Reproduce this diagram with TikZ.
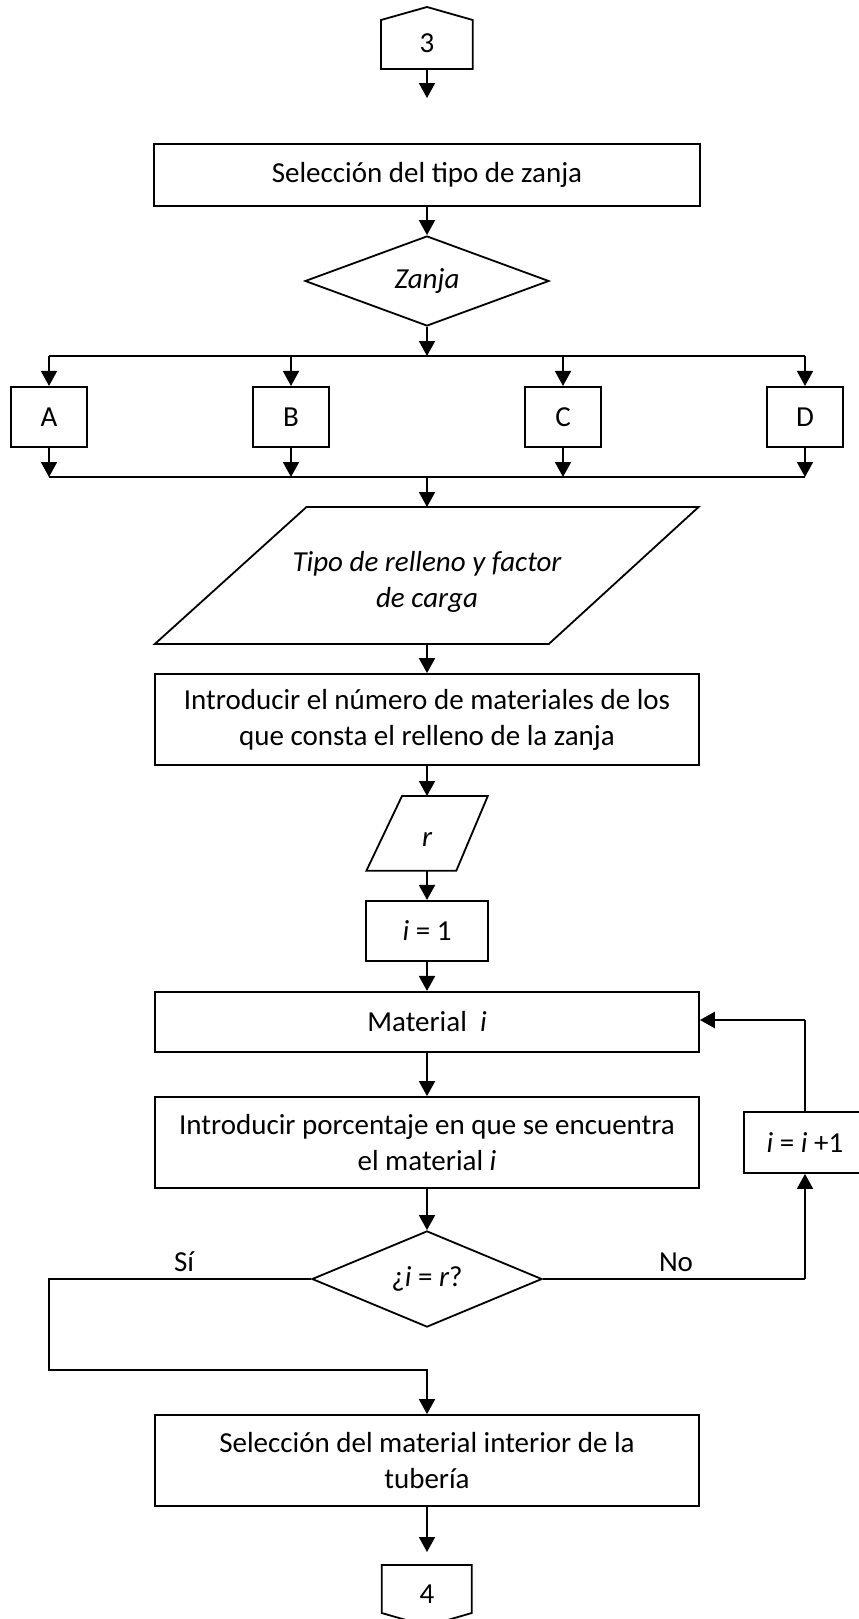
\documentclass[tikz,border=0pt]{standalone}
\usepackage{fontspec}
\setmainfont{Carlito}
\usetikzlibrary{arrows.meta,shapes.geometric,calc}
\begin{document}
\begin{tikzpicture}[x=1pt,y=-1pt,
  line width=1.8pt,
  every node/.style={font=\fontsize{29}{36}\selectfont, inner sep=0pt},
  proc/.style={draw, rectangle, align=center},
  ghost/.style={rectangle, align=center, outer sep=0pt},
  dec/.style={draw, diamond, align=center},
  arr/.style={-{Triangle[length=15pt,width=16pt]}},
  lbl/.style={inner sep=0pt}
  ]
\useasboundingbox (0,0) rectangle (859,1619);
\clip (0,0) rectangle (859,1619);
\fill[white] (0,0) rectangle (859,1619);

% connector 3
\draw (381,69) -- (381,20) -- (427,7) -- (472.7,20) -- (472.7,69) -- cycle;
\node[ghost, minimum width=90pt, minimum height=52pt] (c3) at (427,43) {3};
\coordinate (c3end) at (427,98);
\draw[arr] (c3.south) -- (c3end);

% selection of trench
\node[proc, minimum width=546pt, minimum height=61.4pt] (sel) at (427,175) {Selección del tipo de zanja};
\node[dec, minimum width=244pt, minimum height=90pt] (zan) at (427,281) {\itshape Zanja};
\draw[arr] (sel.south) -- (zan.north);

% branch line
\coordinate (bl) at (49,356);
\coordinate (bm) at (427,356);
\coordinate (br) at (805,356);
\draw[arr] (zan.south) -- (bm);
\draw (bl) -- (br);

\node[proc, minimum width=76pt, minimum height=60.3pt] (A) at (49,417) {A};
\node[proc, minimum width=76pt, minimum height=60.3pt] (B) at (291,417) {B};
\node[proc, minimum width=76pt, minimum height=60.3pt] (C) at (563,417) {C};
\node[proc, minimum width=76pt, minimum height=60.3pt] (D) at (805,417) {D};

\coordinate (jl) at (49,477);
\coordinate (jm) at (427,477);
\coordinate (jr) at (805,477);
\foreach \n in {A,B,C,D}{
  \draw[arr] (\n.north |- bl) -- (\n.north);
  \draw[arr] (\n.south) -- (\n.south |- jl);
}
\draw (jl) -- (jr);

% parallelogram: tipo de relleno
\draw (306.5,507) -- (698.6,507) -- (548.8,644) -- (154.8,644) -- cycle;
\node[ghost, minimum width=300pt, minimum height=137pt,
  label={[yshift=-6.5pt, align=center]center:{\itshape Tipo de relleno y factor\\\itshape de carga}}] (tipo) at (427,575.5) {};
\draw[arr] (jm) -- (tipo.north);

\node[proc, minimum width=544pt, minimum height=91pt] (nmat) at (427,719.5) {Introducir el número de materiales de los\\que consta el relleno de la zanja};
\draw[arr] (tipo.south) -- (nmat.north);

% parallelogram r
\draw (402,796) -- (487.8,796) -- (456.3,870.7) -- (366.4,870.7) -- cycle;
\node[ghost, minimum width=60pt, minimum height=74.7pt,
  label={[yshift=-6pt]center:{\itshape r}}] (r) at (427,833.35) {};
\draw[arr] (nmat.south) -- (r.north);

\node[proc, minimum width=121.7pt, minimum height=60.3pt] (i1) at (427,931) {\textit{i} = 1};
\draw[arr] (r.south) -- (i1.north);

\node[proc, minimum width=544pt, minimum height=60.3pt] (mat) at (427,1022) {Material~~\textit{i}};
\draw[arr] (i1.south) -- (mat.north);

\node[proc, minimum width=544pt, minimum height=91pt] (porc) at (427,1142.5) {Introducir porcentaje en que se encuentra\\el material \textit{i}};
\draw[arr] (mat.south) -- (porc.north);

\node[dec, minimum width=230pt, minimum height=92pt] (dec2) at (427,1279) {¿\textit{i} = \textit{r}?};
\draw[arr] (porc.south) -- (dec2.north);

% loop
\node[proc, minimum width=122pt, minimum height=61pt] (incr) at (805,1142.5) {\textit{i} = \textit{i} +1};
\coordinate (nc) at (805,1279);
\draw (dec2.east) -- (nc);
\draw[arr] (nc) -- (incr.south);
\coordinate (lp) at (805,1020);
\draw[line width=1.5pt] (incr.north) -- (lp);
\draw[arr, line width=2.6pt] (lp) -- (lp -| mat.east);

\node[lbl] (no) at (676,1262) {No};
\node[lbl] (si) at (184,1262) {Sí};

% yes branch
\node[proc, minimum width=544pt, minimum height=91pt] (box3) at (427,1460.5) {Selección del material interior de la\\tubería};
\coordinate (y1) at (49,1279);
\coordinate (y2) at (49,1370);
\coordinate (y3) at (427,1370);
\draw[arr] (dec2.west) -- (y1) -- (y2) -- (y3) -- (box3.north);

% connector 4
\draw (381.7,1565) -- (471.7,1565) -- (471.7,1613) -- (427,1626) -- (381.7,1613) -- cycle;
\node[ghost, minimum width=90pt, minimum height=58pt] (c4) at (427,1594) {4};
\coordinate (c4in) at (427,1552);
\draw[arr] (box3.south) -- (c4in);
\end{tikzpicture}
\end{document}
